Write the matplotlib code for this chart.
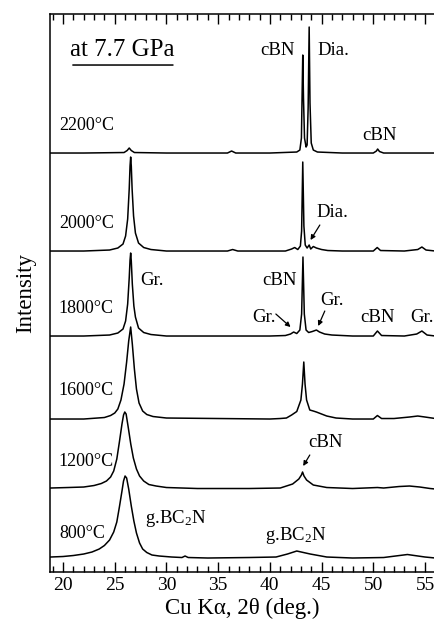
import matplotlib
matplotlib.use('Agg')
import matplotlib.pyplot as plt
from matplotlib.ticker import MultipleLocator

plt.rcParams['font.family'] = ['Liberation Serif', 'DejaVu Serif']
plt.rcParams['mathtext.fontset'] = 'custom'
plt.rcParams['mathtext.rm'] = 'Liberation Serif'
plt.rcParams['mathtext.default'] = 'regular'

# === DATA (2theta in deg, intensity above each baseline, arb. units) ===
x_2200 = [18.8, 22, 25.9, 26.2, 26.4, 26.6, 26.9, 30, 33, 35.9, 36.3, 36.7, 40, 42.6, 42.9,
          43.05, 43.12, 43.18, 43.25, 43.35, 43.5, 43.6, 43.7, 43.8, 43.88, 44.0, 44.2, 44.6,
          47, 50.0, 50.3, 50.42, 50.6, 51, 53, 56]
h_2200 = [0, 0, 0.5, 2.5, 5, 2.5, 0.5, 0, 0, 0, 2, 0, 0, 1, 3,
          15, 60, 98, 55, 15, 6, 8, 45, 126, 50, 10, 3, 1,
          0, 0, 2, 4, 1.5, 0, 0, 0]

x_2000 = [18.8, 22, 24.5, 25.3, 25.8, 26.05, 26.25, 26.4, 26.48, 26.54, 26.6, 26.68, 26.82,
          27.0, 27.3, 27.8, 28.5, 30, 35.9, 36.4, 36.9, 41.5, 42.1, 42.4, 42.7, 42.95, 43.07,
          43.18, 43.29, 43.42, 43.6, 43.8, 43.95, 44.2, 44.5, 45.0, 45.6, 47, 50.0, 50.38, 50.7,
          53, 54.3, 54.7, 55.1, 56]
h_2000 = [0, 0, 1, 3, 7, 15, 32, 62, 85, 94, 85, 62, 35,
          18, 8, 3.5, 1.5, 0, 0, 1.5, 0, 0, 2, 3.5, 1.5, 5, 20,
          89, 25, 6, 3, 6, 2, 4.5, 3, 1.5, 0.5, 0, 0, 3.5, 0.5,
          0, 1.5, 4, 1, 0]

x_1800 = [18.8, 22, 24.5, 25.3, 25.8, 26.05, 26.25, 26.4, 26.48, 26.54, 26.6, 26.7, 26.85,
          27.0, 27.3, 27.8, 28.5, 30, 40, 41.5, 42.0, 42.3, 42.6, 42.9, 43.07, 43.2, 43.33,
          43.5, 43.75, 44.1, 44.5, 44.8, 45.3, 46, 48, 50.0, 50.4, 50.8, 53, 54.2, 54.7, 55.2, 56]
h_1800 = [0, 0, 1, 3, 7, 15, 32, 58, 76, 83, 75, 52, 30,
          19, 8, 3.5, 1.5, 0, 0, 0.5, 2, 4, 2.5, 6, 22, 79, 22,
          6, 3.5, 4.5, 6, 4, 2, 1, 0, 0, 5, 0.5, 0, 2, 5, 1, 0]

x_1600 = [18.8, 22, 24.0, 24.6, 25.0, 25.3, 25.6, 25.9, 26.15, 26.35, 26.54, 26.7, 26.9,
          27.1, 27.35, 27.7, 28.1, 28.7, 30, 40, 41.0, 41.6, 42.1, 42.6, 43.0, 43.15, 43.28,
          43.4, 43.55, 43.86, 44.2, 44.5, 45.5, 46.4, 48, 50.0, 50.4, 50.8, 52, 53.5, 54.3,
          55, 56]
h_1600 = [0, 0, 1.5, 3.5, 6, 10, 19, 35, 57, 78, 92, 75, 50,
          30, 16, 8, 4.5, 2.5, 1, 0, 0.5, 1, 4, 7.5, 19, 35, 57,
          35, 19, 9, 8, 7, 3, 1, 0, 0, 3.5, 0.5, 0.5, 2, 3,
          2, 0.5]

x_1200 = [18.8, 20.5, 22, 23, 23.7, 24.2, 24.6, 24.9, 25.2, 25.45, 25.7, 25.85, 25.97,
          26.1, 26.3, 26.55, 26.8, 27.1, 27.4, 27.8, 28.3, 29, 30, 33, 38, 41.0, 42.2, 42.8,
          43.05, 43.16, 43.3, 43.55, 44.2, 45.5, 48, 50.4, 51, 52.5, 53.5, 54.5, 55.5, 56]
h_1200 = [1, 1.5, 2, 3.5, 5.5, 8, 12, 18, 30, 47, 65, 74, 77,
          75, 62, 45, 31, 20, 13, 8, 4.5, 3, 1.5, 0.5, 0.5, 1, 5, 10,
          14, 17, 13, 9, 4, 1.5, 0.5, 1.5, 1, 2.5, 3, 2, 0.5, 0]

x_800 = [18.8, 20.0, 21.0, 22.0, 22.8, 23.5, 24.0, 24.5, 24.9, 25.2, 25.45, 25.7, 25.85,
         26.0, 26.15, 26.35, 26.6, 26.85, 27.1, 27.4, 27.7, 28.1, 28.6, 29.3, 30.5, 31.5,
         31.8, 32.1, 34, 38, 40.6, 41.7, 42.6, 43.9, 45.5, 48, 51, 53.3, 55, 56]
h_800 = [2, 2.5, 3.5, 5, 7, 10, 13.5, 19, 27, 37, 52, 68, 78,
         83, 81, 70, 53, 38, 26, 16, 10, 6.5, 4, 3, 2, 1.5,
         3, 1.5, 1, 1.5, 2, 5, 8, 5, 2, 1, 1.5, 4.5, 2, 1]

curves = [(x_2200, h_2200), (x_2000, h_2000), (x_1800, h_1800),
          (x_1600, h_1600), (x_1200, h_1200), (x_800, h_800)]
baselines = [419, 321, 236, 153, 83, 13]
temp_labels = ['2200°C', '2000°C', '1800°C', '1600°C', '1200°C', '800°C']
temp_label_y = [447, 349, 264, 182, 111, 39]

fig = plt.figure(figsize=(4.34, 6.29), dpi=100)
ax = fig.add_axes([0.1152, 0.0906, 0.8848, 0.8871])

for (xs, hs), base in zip(curves, baselines):
    ax.plot(xs, [h + base for h in hs], color='black', lw=1.1)

ax.set_xlim(18.74, 55.87)
ax.set_ylim(0, 558)

# temperature labels
for lab, y in zip(temp_labels, temp_label_y):
    ax.text(19.6, y, lab, fontsize=13, ha='left', va='center')

ax.text(20.68, 522, 'at 7.7 GPa', fontsize=18, ha='left', va='center')
ax.annotate('', xy=(20.68, 507), xytext=(30.9, 507),
            arrowprops=dict(arrowstyle='-', lw=1.1, color='black'))

fs = 13.5
ax.text(40.77, 522, 'cBN', fontsize=fs, ha='center', va='center')
ax.text(44.64, 522, 'Dia.', fontsize=fs, ha='left', va='center')
ax.text(48.89, 437, 'cBN', fontsize=fs, ha='left', va='center')
ax.text(44.54, 360, 'Dia.', fontsize=fs, ha='left', va='center')
ax.text(27.44, 292, 'Gr.', fontsize=fs, ha='left', va='center')
ax.text(39.23, 292, 'cBN', fontsize=fs, ha='left', va='center')
ax.text(38.26, 255, 'Gr.', fontsize=fs, ha='left', va='center')
ax.text(44.83, 272, 'Gr.', fontsize=fs, ha='left', va='center')
ax.text(48.7, 255, 'cBN', fontsize=fs, ha='left', va='center')
ax.text(53.53, 255, 'Gr.', fontsize=fs, ha='left', va='center')
ax.text(43.67, 130, 'cBN', fontsize=fs, ha='left', va='center')
ax.text(27.92, 54, 'g.BC$_2$N', fontsize=fs, ha='left', va='center')
ax.text(39.52, 37, 'g.BC$_2$N', fontsize=fs, ha='left', va='center')

arrow = dict(arrowstyle='-|>', lw=0.9, color='black', mutation_scale=7, shrinkA=0, shrinkB=0)
ax.annotate('', xy=(43.93, 332), xytext=(44.83, 347), arrowprops=arrow)
ax.annotate('', xy=(42.0, 245), xytext=(40.58, 258), arrowprops=arrow)
ax.annotate('', xy=(44.67, 246), xytext=(45.31, 261), arrowprops=arrow)
ax.annotate('', xy=(43.22, 106), xytext=(43.86, 117), arrowprops=arrow)

# axes styling
ax.spines['right'].set_visible(False)
for s in ['left', 'top', 'bottom']:
    ax.spines[s].set_linewidth(1.1)
ax.xaxis.set_major_locator(MultipleLocator(5))
ax.xaxis.set_minor_locator(MultipleLocator(1))
ax.tick_params(axis='x', which='both', direction='in', top=True, bottom=True, labelsize=14)
ax.tick_params(axis='x', which='major', length=7, width=1)
ax.tick_params(axis='x', which='minor', length=4, width=1)
ax.set_yticks([])
ax.set_xlabel('Cu Kα, 2θ (deg.)', fontsize=16.5, labelpad=3)
ax.set_ylabel('Intensity', fontsize=16.5, labelpad=10)

fig.savefig('out.png', dpi=100)
